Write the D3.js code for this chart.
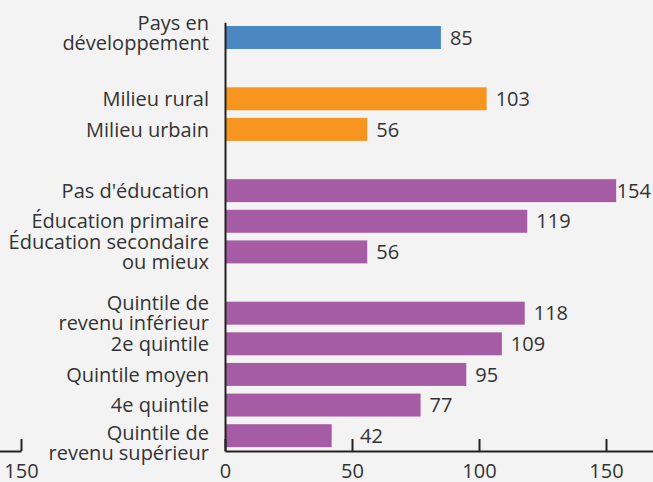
<!DOCTYPE html>
<html>
<head>
<meta charset="utf-8">
<script src="https://cdn.jsdelivr.net/npm/d3@7"></script>
<style>
  html, body { margin: 0; padding: 0; background: #f3f3f3; }
  svg { display: block; font-family: "Open Sans", sans-serif; }
  .axis path, .axis line { stroke: #222; stroke-width: 2; }
  .axis text { font-size: 20px; fill: #333; font-family: "Open Sans", sans-serif; }
</style>
</head>
<body>
<svg id="chart" width="653" height="482"></svg>
<script>
// categories (\n = line break), by group
const categories = [
    "Pays en\ndéveloppement",
    "Milieu rural", "Milieu urbain",
    "Pas d'éducation", "Éducation primaire", "Éducation secondaire\nou mieux",
    "Quintile de\nrevenu inférieur", "2e quintile", "Quintile moyen", "4e quintile", "Quintile de\nrevenu supérieur"
];
const groups = [0, 1, 1, 2, 2, 2, 3, 3, 3, 3, 3];
const values = [85, 103, 56, 154, 119, 56, 118, 109, 95, 77, 42];
const groupColors = ["#4b87c1", "#f7951e", "#a65ca5"];
const colorOfGroup = [0, 1, 2, 2];
const tickValues = [0, 50, 100, 150];

const data = categories.map((c, i) => ({ label: c, value: values[i], group: groups[i] }));

// band domain with an empty slot between groups
const slots = [];
data.forEach((d, i) => {
    if (i > 0 && d.group !== data[i - 1].group) slots.push("gap" + i);
    slots.push(d.label);
});

const svg = d3.select("#chart");
const width = 653, x0 = 225, axisY = 451, tickLen = 12, fontSize = 20;

const x = d3.scaleLinear().domain([0, 168.5]).range([x0, width]);
const y = d3.scaleBand().domain(slots).range([22.2, axisY]).paddingInner(0.25).paddingOuter(0.125);

// fragment of the neighbouring panel's axis on the far left
const xLeft = d3.scaleLinear().domain([0, 150]).range([21 - 150 * 2.54, 21]);
svg.append("g")
    .classed("axis", true)
    .attr("transform", `translate(0, ${axisY})`)
    .call(d3.axisBottom(xLeft).tickValues([150]).tickSize(-tickLen).tickSizeOuter(0).tickPadding(13));

svg.selectAll("rect.bar")
    .data(data)
    .join("rect")
    .classed("bar", true)
    .attr("x", x(0))
    .attr("y", d => y(d.label))
    .attr("width", d => x(d.value) - x(0))
    .attr("height", y.bandwidth())
    .attr("fill", d => groupColors[colorOfGroup[d.group]]);

// value labels, pushed past an axis tick if they would sit on it, kept inside the picture
svg.selectAll("text.val")
    .data(data)
    .join("text")
    .classed("val", true)
    .attr("y", d => y(d.label) + y.bandwidth() / 2)
    .attr("dy", "0.36em")
    .style("font-size", fontSize + "px")
    .style("fill", "#333")
    .text(d => d.value)
    .attr("x", function (d) {
        const w = this.getComputedTextLength();
        let lx = x(d.value) + 9;
        if (y(d.label) + y.bandwidth() > axisY - tickLen) {
            tickValues.forEach(t => {
                if (x(t) > lx - 4 && x(t) < lx + w) lx = x(t) + 8;
            });
        }
        return Math.min(lx, width - 2 - w);
    });

svg.append("g")
    .classed("axis", true)
    .attr("transform", `translate(0, ${axisY})`)
    .call(d3.axisBottom(x).tickValues(tickValues).tickSize(-tickLen).tickSizeOuter(0).tickPadding(13));

svg.append("g")
    .classed("axis", true)
    .attr("transform", `translate(${x0}, 0)`)
    .call(d3.axisLeft(y).tickSize(0).tickFormat(""));

// multi-line category labels
const labelNudge = { "Pays en\ndéveloppement": -5, "Quintile de\nrevenu supérieur": 7 };
const lineH = 20;
svg.append("g").selectAll("text")
    .data(data)
    .join("text")
    .attr("text-anchor", "end")
    .style("font-size", fontSize + "px")
    .style("fill", "#333")
    .each(function (d) {
        const lines = d.label.split("\n");
        const cy = y(d.label) + y.bandwidth() / 2 + (labelNudge[d.label] || 0);
        const top = cy - (lines.length - 1) * lineH / 2;
        d3.select(this).selectAll("tspan")
            .data(lines)
            .join("tspan")
            .attr("x", x0 - 16)
            .attr("y", (l, i) => top + i * lineH)
            .attr("dy", "0.36em")
            .text(l => l);
    });
</script>
</body>
</html>
